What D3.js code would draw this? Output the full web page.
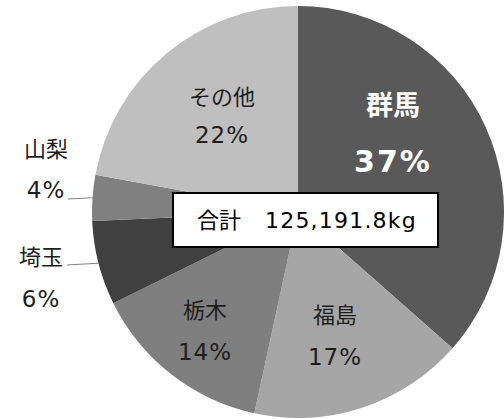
<!DOCTYPE html>
<html lang="ja">
<head>
<meta charset="utf-8">
<title>pie</title>
<script src="https://cdn.jsdelivr.net/npm/d3@7"></script>
<style>
  body { margin: 0; background: #fff; }
  text { font-family: "DejaVu Sans", "Noto Sans CJK JP", sans-serif; }
  .jp { font-family: "Noto Sans CJK JP", sans-serif; }
</style>
</head>
<body>
<div id="chart"></div>
<script>
// shares (percent of total)
var names = ["群馬", "福島", "栃木", "埼玉", "山梨", "その他"];
var shares = [36.5, 16.9, 14.3, 6.6, 3.6, 22.1];
var pctLabels = ["37%", "17%", "14%", "6%", "4%", "22%"];
var totalLabel = "合計";
var totalValue = "125,191.8kg";

var colors = ["#595959", "#a6a6a6", "#7f7f7f", "#404040", "#808080", "#bfbfbf"];

// where each label sits (x, name baseline, pct baseline) - layout only
var labelAt = {
  "群馬": [393, 115, 172],
  "福島": [335, 323, 365],
  "栃木": [205, 318, 360],
  "埼玉": [41, 265, 307],
  "山梨": [46, 157, 198],
  "その他": [222, 105, 143]
};
var leaderFrom = { "埼玉": [67, 265], "山梨": [68, 199] };

var w = 504, h = 419;
var cx = 298, cy = 212, r = 206;

var svg = d3.select("#chart").append("svg")
  .attr("width", w)
  .attr("height", h);

var data = names.map(function(n, i) {
  return { name: n, value: shares[i], pct: pctLabels[i], color: colors[i] };
});

var pie = d3.pie().sort(null).value(function(d) { return d.value; });
var arc = d3.arc().innerRadius(0).outerRadius(r);
var rim = d3.arc().innerRadius(r).outerRadius(r);

var g = svg.append("g").attr("transform", "translate(" + cx + "," + cy + ")");

var arcs = pie(data);

g.selectAll("path")
  .data(arcs)
  .enter()
  .append("path")
  .attr("d", arc)
  .attr("fill", function(d) { return d.data.color; });

// leader lines for the small outside slices
arcs.forEach(function(d) {
  var from = leaderFrom[d.data.name];
  if (!from) return;
  var p = rim.centroid(d);
  svg.append("line")
    .attr("x1", from[0]).attr("y1", from[1])
    .attr("x2", cx + p[0]).attr("y2", cy + p[1])
    .attr("stroke", "#808080")
    .attr("stroke-width", 1);
});

arcs.forEach(function(d) {
  var pos = labelAt[d.data.name];
  var big = d.data.name === "群馬";
  svg.append("text")
    .attr("class", "jp")
    .attr("x", pos[0]).attr("y", pos[1])
    .attr("text-anchor", "middle")
    .attr("font-size", big ? 27 : 22)
    .attr("font-weight", big ? "bold" : "normal")
    .attr("fill", big ? "#fff" : "#1e1e1e")
    .text(d.data.name);
  svg.append("text")
    .attr("x", pos[0]).attr("y", pos[2])
    .attr("text-anchor", "middle")
    .attr("font-size", big ? 30 : 23)
    .attr("font-weight", big ? "bold" : "normal")
    .attr("letter-spacing", big ? 2 : 1)
    .attr("fill", big ? "#fff" : "#1e1e1e")
    .text(d.data.pct);
});

// total box
svg.append("rect")
  .attr("x", 173).attr("y", 193)
  .attr("width", 265).attr("height", 54)
  .attr("fill", "#fff")
  .attr("stroke", "#000")
  .attr("stroke-width", 2);

svg.append("text")
  .attr("class", "jp")
  .attr("x", 197).attr("y", 228)
  .attr("font-size", 22)
  .attr("fill", "#000")
  .text(totalLabel);

svg.append("text")
  .attr("x", 265).attr("y", 228)
  .attr("font-size", 22)
  .attr("letter-spacing", 1.2)
  .attr("fill", "#000")
  .text(totalValue);
</script>
</body>
</html>
